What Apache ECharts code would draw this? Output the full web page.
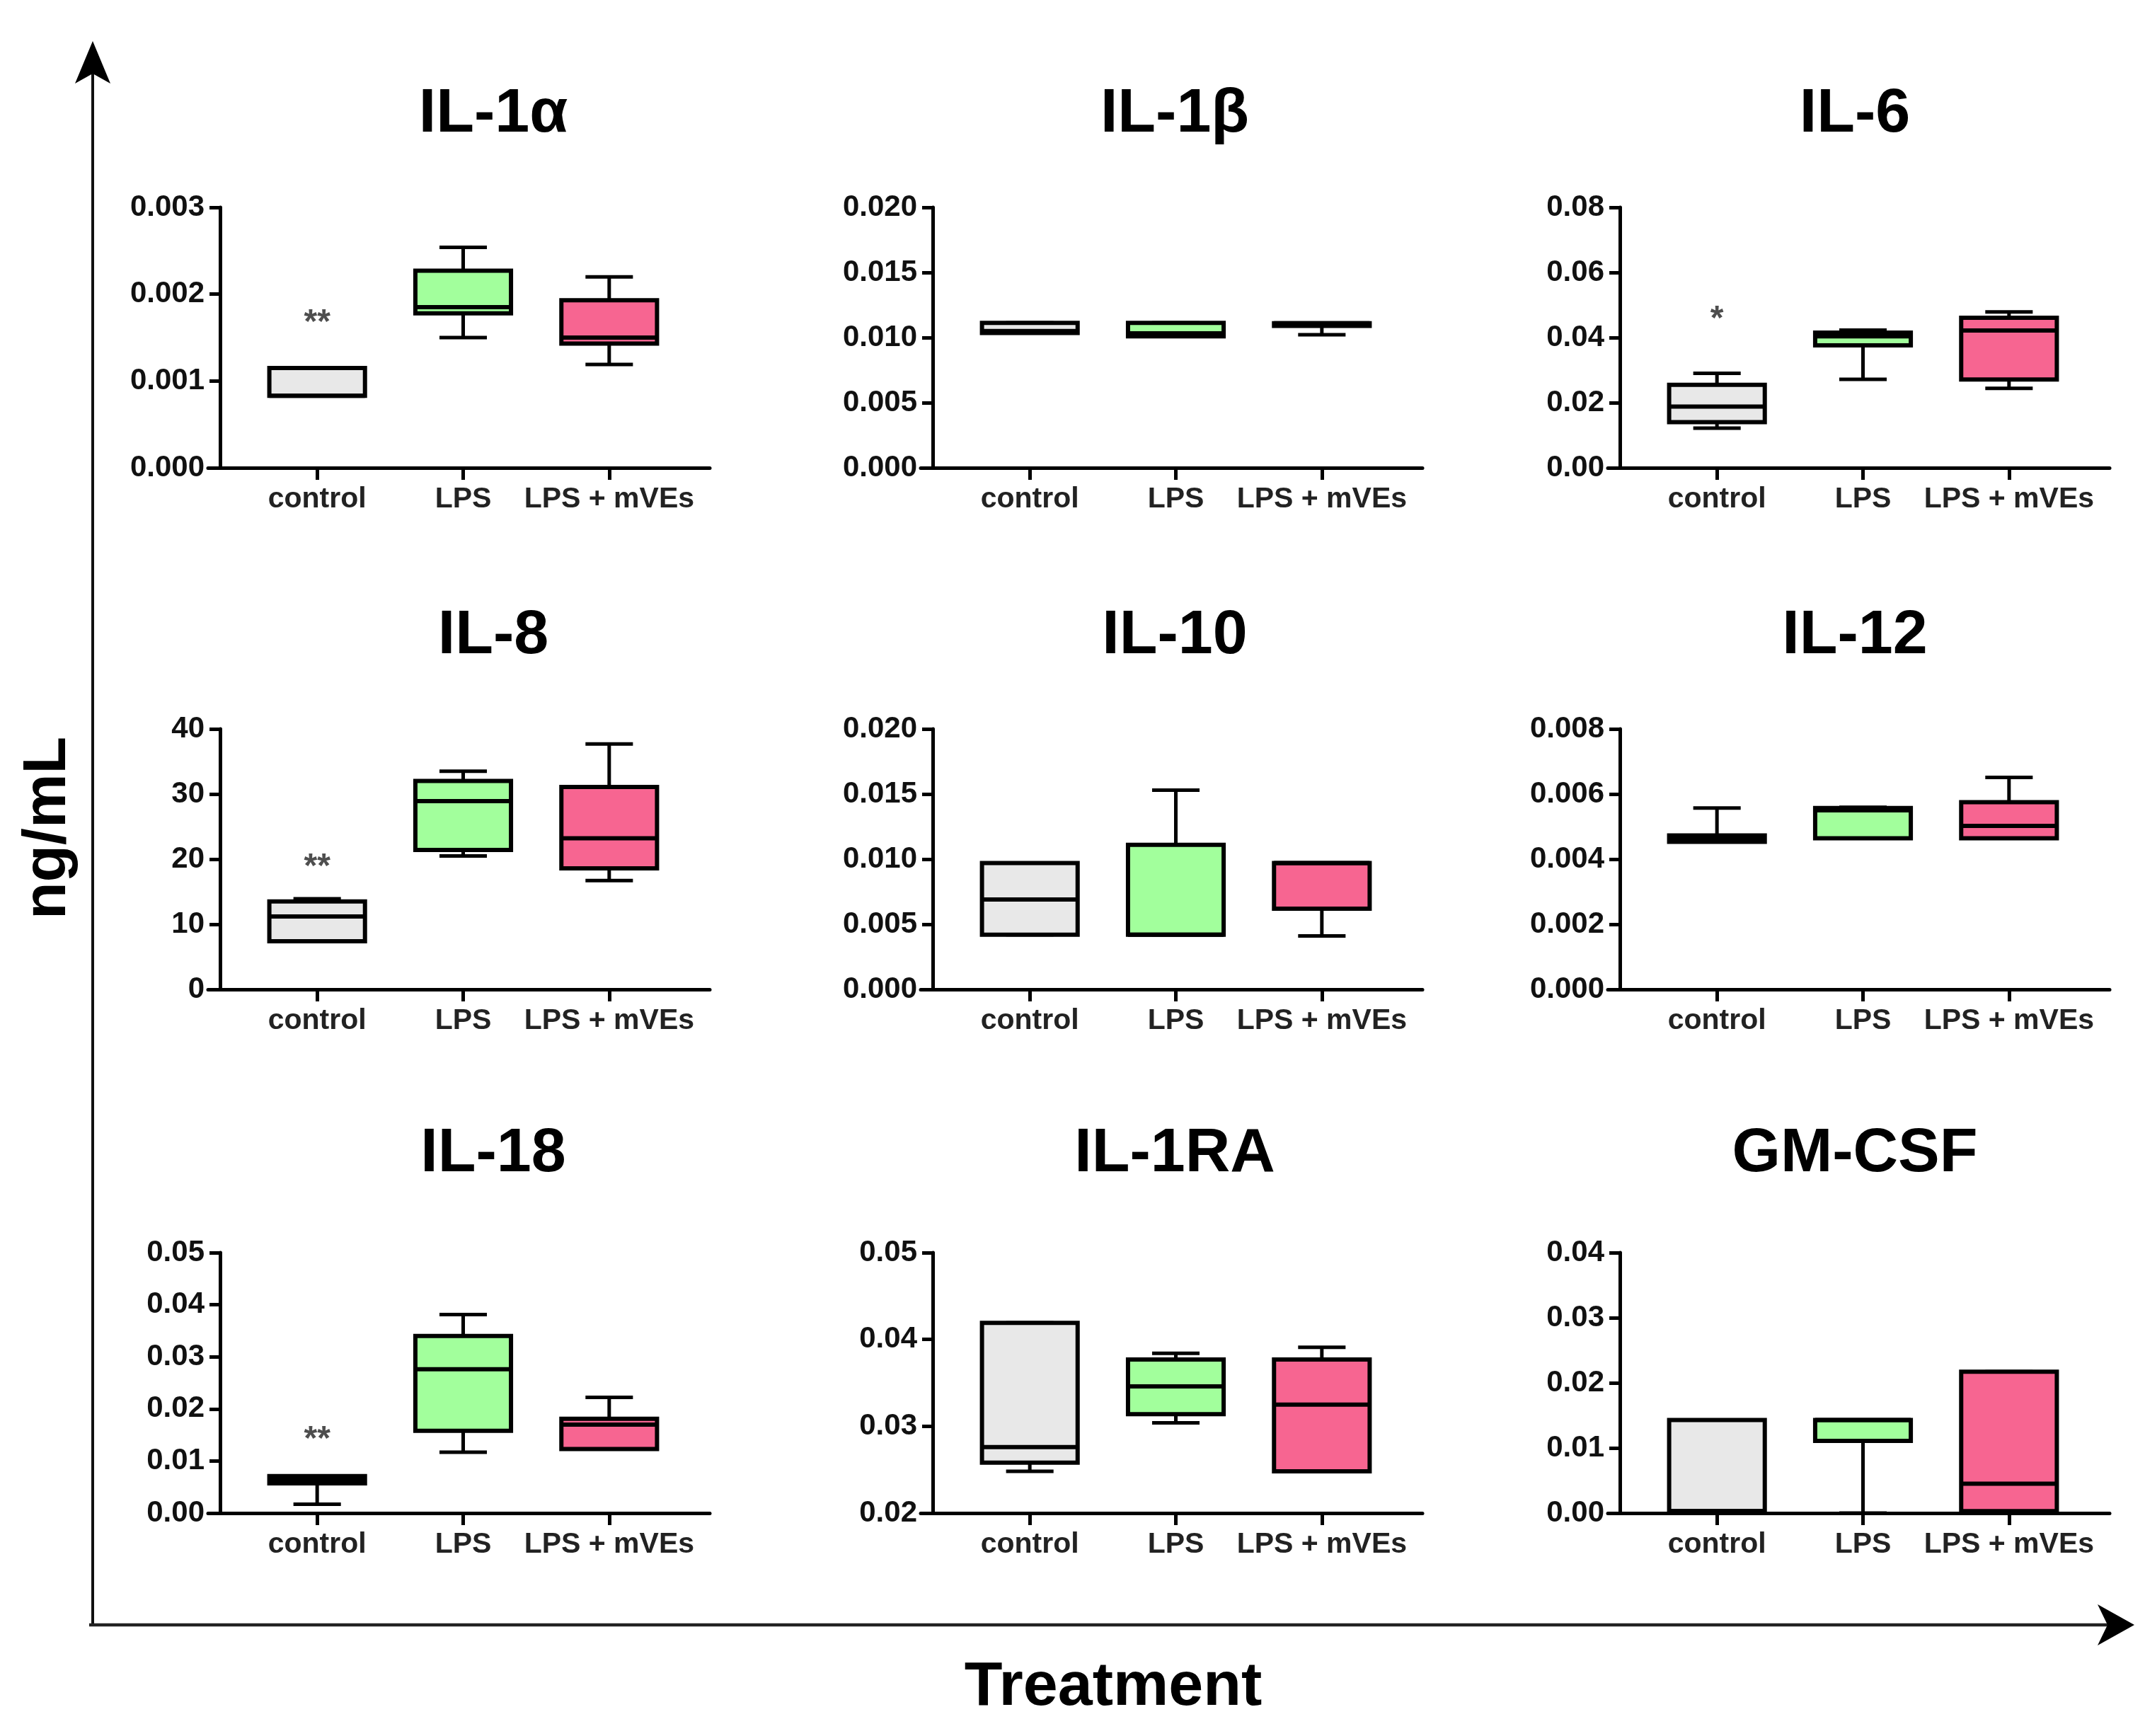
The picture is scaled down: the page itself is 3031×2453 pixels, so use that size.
<!DOCTYPE html>
<html><head><meta charset="utf-8">
<script src="https://cdn.jsdelivr.net/npm/echarts@6/dist/echarts.min.js"></script>
<style>html,body{margin:0;padding:0;background:#fff}#c{width:3031px;height:2453px}</style>
</head><body><div id="c"></div>
<script>
const categories = ['control', 'LPS', 'LPS + mVEs'];
const panelTitles = ['IL-1α', 'IL-1β', 'IL-6', 'IL-8', 'IL-10', 'IL-12', 'IL-18', 'IL-1RA', 'GM-CSF'];
// per category: [min, Q1, median, Q3, max]
const il1a  = [[0.00083, 0.00083, 0.00083, 0.00115, 0.00115], [0.00150, 0.00178, 0.00185, 0.00227, 0.00254], [0.00119, 0.00143, 0.00150, 0.00193, 0.00220]];
const il1b  = [[0.01036, 0.01036, 0.01050, 0.01113, 0.01113], [0.01009, 0.01009, 0.01032, 0.01113, 0.01113], [0.01022, 0.01090, 0.01110, 0.01110, 0.01110]];
const il6   = [[0.0122, 0.0140, 0.0188, 0.0255, 0.0290], [0.0272, 0.0376, 0.0404, 0.0415, 0.0423], [0.0244, 0.0271, 0.0422, 0.0461, 0.0479]];
const il8   = [[7.4, 7.4, 11.2, 13.5, 13.9], [20.5, 21.4, 28.9, 32.0, 33.5], [16.7, 18.6, 23.2, 31.1, 37.7]];
const il10  = [[0.0042, 0.0042, 0.0069, 0.0097, 0.0097], [0.0042, 0.0042, 0.0042, 0.0111, 0.0153], [0.0041, 0.0062, 0.0097, 0.0097, 0.0097]];
const il12  = [[0.00453, 0.00453, 0.00463, 0.00473, 0.00557], [0.00464, 0.00464, 0.00550, 0.00557, 0.00559], [0.00464, 0.00464, 0.00502, 0.00575, 0.00651]];
const il18  = [[0.0017, 0.0057, 0.0064, 0.0071, 0.0071], [0.0117, 0.0158, 0.0276, 0.0340, 0.0381], [0.0123, 0.0123, 0.0170, 0.0181, 0.0222]];
const il1ra = [[0.0248, 0.0258, 0.0276, 0.0419, 0.0419], [0.0304, 0.0314, 0.0346, 0.0377, 0.0384], [0.0248, 0.0248, 0.0325, 0.0377, 0.0391]];
const gmcsf = [[0.0003, 0.0003, 0.0003, 0.0143, 0.0143], [0.0000, 0.0111, 0.0143, 0.0143, 0.0143], [0.0003, 0.0003, 0.0045, 0.0217, 0.0217]];
const panelData = [il1a, il1b, il6, il8, il10, il12, il18, il1ra, gmcsf];
const yMins      = [0, 0, 0, 0, 0, 0, 0, 0.02, 0];
const yMaxs      = [0.003, 0.020, 0.08, 40, 0.020, 0.008, 0.05, 0.05, 0.04];
const yIntervals = [0.001, 0.005, 0.02, 10, 0.005, 0.002, 0.01, 0.01, 0.01];
const yDecimals  = [3, 3, 2, 0, 3, 3, 2, 2, 2];
const sigPanels = [0, 2, 3, 6];
const sigValues = [0.00177, 0.0484, 20.1, 0.0158];
const sigTexts  = ['**', '*', '**', '**'];

const fills = ['#E8E8E8', '#A2FF9C', '#F76591'];
const FONT = '"Liberation Sans", Arial, sans-serif';
const colX = [311, 1318, 2289];
const rowTop = [293, 1030, 1770];
const plotH = 368;
const titleX = [697, 1660, 2621];
const titleY = [162, 899, 1631];

function renderBox(params, api) {
  const x = api.value(0);
  const p = [1, 2, 3, 4, 5].map(function (i) { return api.coord([x, api.value(i)]); });
  const band = api.size([1, 0])[0];
  const bw = band * 0.655, cw = band * 0.325;
  const cx = p[0][0];
  const lw = 6, wl = 5;
  const blk = '#000';
  return {
    type: 'group',
    children: [
      { type: 'line', shape: { x1: cx, y1: p[3][1], x2: cx, y2: p[4][1] }, style: { stroke: blk, lineWidth: wl } },
      { type: 'line', shape: { x1: cx - cw / 2, y1: p[4][1], x2: cx + cw / 2, y2: p[4][1] }, style: { stroke: blk, lineWidth: wl } },
      { type: 'line', shape: { x1: cx, y1: p[1][1], x2: cx, y2: p[0][1] }, style: { stroke: blk, lineWidth: wl } },
      { type: 'line', shape: { x1: cx - cw / 2, y1: p[0][1], x2: cx + cw / 2, y2: p[0][1] }, style: { stroke: blk, lineWidth: wl } },
      { type: 'rect', shape: { x: cx - bw / 2, y: p[3][1], width: bw, height: p[1][1] - p[3][1] }, style: { fill: fills[x], stroke: blk, lineWidth: lw } },
      { type: 'line', shape: { x1: cx - bw / 2, y1: p[2][1], x2: cx + bw / 2, y2: p[2][1] }, style: { stroke: blk, lineWidth: lw } }
    ]
  };
}

const grid = [], xAxis = [], yAxis = [], series = [], title = [];
panelTitles.forEach(function (t, i) {
  const r = Math.floor(i / 3), c = i % 3;
  const Y = colX[c], top = rowTop[r];
  grid.push({ left: Y + 34, top: top, width: 619, height: plotH });
  grid.push({ left: Y - 17, top: top, width: 709, height: plotH });
  xAxis.push({
    gridIndex: 2 * i, type: 'category', data: categories, boundaryGap: true,
    axisLine: { show: false, onZero: false },
    axisTick: { show: true, alignWithLabel: true, length: 17, lineStyle: { color: '#000', width: 5 } },
    axisLabel: { show: true, interval: 0, margin: 24, fontSize: 41, fontWeight: 'bold', color: '#222', fontFamily: FONT },
    splitLine: { show: false }
  });
  xAxis.push({
    gridIndex: 2 * i + 1, type: 'category', data: [''],
    axisLine: { show: true, onZero: false, lineStyle: { color: '#000', width: 5 } },
    axisTick: { show: false }, axisLabel: { show: false }, splitLine: { show: false }
  });
  const dec = yDecimals[i];
  yAxis.push({
    gridIndex: 2 * i, type: 'value', min: yMins[i], max: yMaxs[i], interval: yIntervals[i], offset: 34,
    axisLine: { show: true, lineStyle: { color: '#000', width: 5 } },
    axisTick: { show: true, length: 15, lineStyle: { color: '#000', width: 5 } },
    axisLabel: { show: true, margin: 22, fontSize: 42, fontWeight: 'bold', color: '#111', fontFamily: FONT,
      formatter: function (v) { return Number(v).toFixed(dec); } },
    splitLine: { show: false }
  });
  yAxis.push({ gridIndex: 2 * i + 1, type: 'value', show: false });
  series.push({
    type: 'custom', xAxisIndex: 2 * i, yAxisIndex: 2 * i, renderItem: renderBox,
    encode: { x: 0, y: [1, 2, 3, 4, 5] },
    data: panelData[i].map(function (d, k) { return [k].concat(d); }),
    silent: true, animation: false
  });
  title.push({
    text: t, left: titleX[c], top: titleY[r], padding: 0,
    textAlign: 'center', textVerticalAlign: 'middle',
    textStyle: { fontSize: 88, fontWeight: 'bold', color: '#000', fontFamily: FONT }
  });
});

sigPanels.forEach(function (p, k) {
  series.push({
    type: 'scatter', xAxisIndex: 2 * p, yAxisIndex: 2 * p, symbolSize: 1,
    itemStyle: { color: 'rgba(0,0,0,0)' }, silent: true, animation: false,
    data: [[0, sigValues[k]]],
    label: { show: true, position: 'inside', offset: [0, 13], formatter: sigTexts[k],
      fontSize: 48, fontWeight: 'bold', color: '#222', fontFamily: FONT }
  });
});

const graphic = [
  { type: 'line', shape: { x1: 131, y1: 100, x2: 131, y2: 2298 }, style: { stroke: '#111', lineWidth: 4 } },
  { type: 'polygon', shape: { points: [[131, 58], [106, 118], [131, 104], [156, 118]] }, style: { fill: '#000' } },
  { type: 'line', shape: { x1: 126, y1: 2296, x2: 2995, y2: 2296 }, style: { stroke: '#222', lineWidth: 4.5 } },
  { type: 'polygon', shape: { points: [[3016, 2296], [2964, 2267], [2978, 2296], [2964, 2325]] }, style: { fill: '#000' } },
  { type: 'text', x: 68, y: 1170, rotation: Math.PI / 2,
    style: { text: 'ng/mL', font: 'bold 86px ' + FONT, fill: '#000', align: 'center', verticalAlign: 'middle', textAlign: 'center', textVerticalAlign: 'middle' } },
  { type: 'text', x: 1573, y: 2385,
    style: { text: 'Treatment', font: 'bold 88px ' + FONT, fill: '#000', align: 'center', verticalAlign: 'middle', textAlign: 'center', textVerticalAlign: 'middle' } }
];

const chart = echarts.init(document.getElementById('c'), null, { renderer: 'canvas' });
chart.setOption({
  backgroundColor: '#fff', animation: false,
  title: title, grid: grid, xAxis: xAxis, yAxis: yAxis, series: series, graphic: graphic
});
</script></body></html>
